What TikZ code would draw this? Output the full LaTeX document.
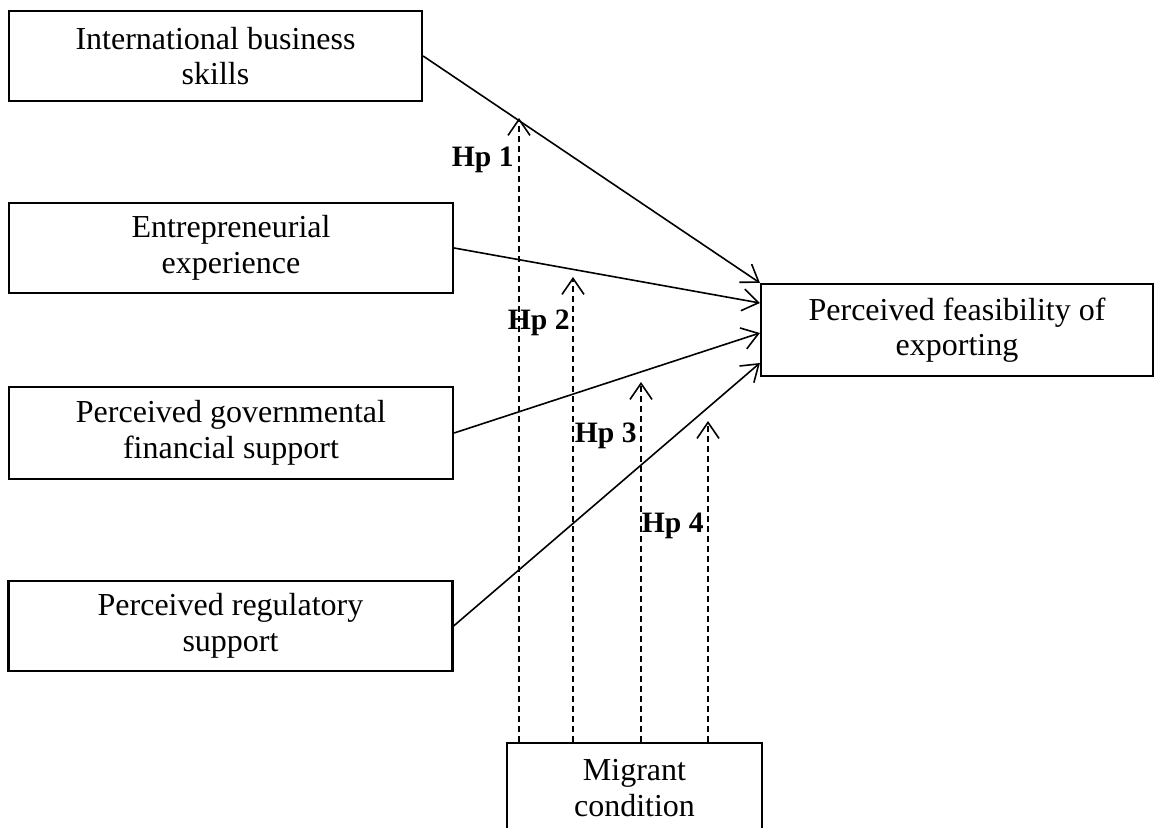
\documentclass[tikz,border=0pt]{standalone}
\usepackage{fontspec}
\setmainfont{Liberation Serif}
\usetikzlibrary{arrows.meta}

\begin{document}
\begin{tikzpicture}[x=0.5pt,y=-0.5pt,
  box/.style={draw,line width=1.1pt,align=center,inner sep=0pt,minimum height=45pt,font=\fontsize{16}{17.8}\selectfont},
  link/.style={line width=0.8pt,-{Straight Barb[length=8pt,width=11pt]}},
  moder/.style={link,dash pattern=on 3pt off 2pt},
  hp/.style={font=\fontsize{14.8}{17}\selectfont\bfseries,inner sep=0pt,anchor=east}]

\useasboundingbox (0,0) rectangle (1154,828);
\clip (0,0) rectangle (1154,828);

% constructs
\node[box,minimum width=206.5pt] (ibs) at (215.5,56) {International business\\skills};
\node[box,minimum width=222pt] (exp) at (231,248) {Entrepreneurial\\experience};
\node[box,minimum width=222pt,minimum height=46pt] (fin) at (231,433) {Perceived governmental\\financial support};
\node[box,minimum width=222pt] (reg) at (230.5,626) {Perceived regulatory\\support};
\node[box,minimum width=196pt,minimum height=46pt] (pfe) at (957,330) {Perceived feasibility of\\exporting};
\node[box,minimum width=127.5pt] (mig) at (634.5,788) {Migrant\\condition};

% direct effects
\draw[link] (ibs.east) -- (pfe.north west);
\draw[link] (exp.east) -- ([yshift=13.5pt]pfe.west);
\draw[link] (fin.east) -- ([yshift=-1.5pt]pfe.west);
\draw[link] (reg.east) -- ([yshift=-16.5pt]pfe.west);

% moderation
\coordinate (t1) at (519,118);
\coordinate (t2) at (573,277);
\coordinate (t3) at (641,382);
\coordinate (t4) at (708,421);
\draw[moder] (t1 |- mig.north) -- (t1);
\draw[moder] (t2 |- mig.north) -- (t2);
\draw[moder] (t3 |- mig.north) -- (t3);
\draw[moder] (t4 |- mig.north) -- (t4);

\node[hp] (hp1) at (514,160) {Hp 1};
\node[hp] (hp2) at (570,323) {Hp 2};
\node[hp] (hp3) at (637,436) {Hp 3};
\node[hp] (hp4) at (704,526) {Hp 4};

\end{tikzpicture}
\end{document}
